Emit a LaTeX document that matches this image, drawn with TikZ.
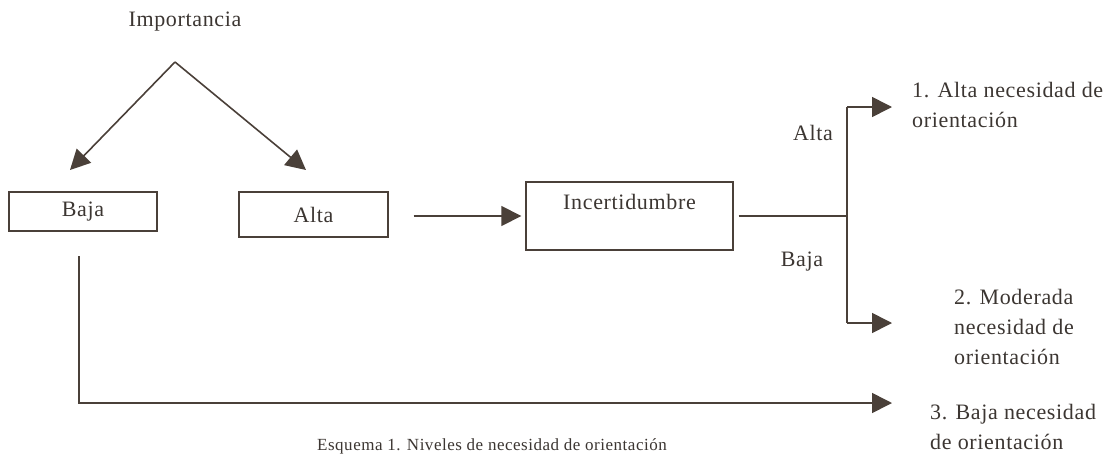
\documentclass[tikz,border=0pt]{standalone}
\usepackage{fontspec}
\setmainfont{Liberation Serif}[LetterSpace=3]
\usetikzlibrary{arrows.meta}
\definecolor{ink}{HTML}{4A4039}
\definecolor{txt}{HTML}{3C3632}
\begin{document}
\begin{tikzpicture}[x=1pt,y=-1pt,
  every node/.style={text=txt,font=\fontsize{22}{30}\selectfont,inner sep=0pt},
  conn/.style={draw=ink,line width=1.6pt},
  arr/.style={conn,-{Triangle[length=20pt,width=20pt]}},
  boxn/.style={draw=ink,line width=1.4pt,rectangle}]
\useasboundingbox (0,0) rectangle (1116,453);
\fill[white] (0,0) rectangle (1116,453);
\node (imp) at (185,22) {Importancia};
\coordinate (apex) at (175,62);
\coordinate (tipL) at (70,170);
\coordinate (tipR) at (306,170);
\node[boxn,minimum width=148pt,minimum height=39pt] (baja) at (83,211.5) {Baja};
\node[boxn,minimum width=149pt,minimum height=45pt] (alta) at (313.5,214.5) {Alta};
\node[boxn,minimum width=207pt,minimum height=68pt] (inc) at (629.5,216) {};
\node (inct) at (629.5,202) {Incertidumbre};
\coordinate (J) at (847,216);
\coordinate (top) at (847,107);
\coordinate (bot) at (847,323);
\coordinate (t1) at (892,107);
\coordinate (t2) at (892,323);
\coordinate (bs) at (79,256);
\coordinate (bc) at (79,403);
\coordinate (t3) at (892,403);
\node (la) at (813,133) {Alta};
\node (lb) at (802,262) {Baja};
\node[anchor=west,align=left] (o1) at (912,105) {1. Alta necesidad de\\orientación};
\node[anchor=west,align=left] (o2) at (954,327) {2. Moderada\\necesidad de\\orientación};
\node[anchor=west,align=left] (o3) at (930,427) {3. Baja necesidad\\de orientación};
\node[font=\fontsize{17}{20}\selectfont] (cap) at (492,446) {Esquema 1. Niveles de necesidad de orientación};
\draw[arr] (apex) -- (tipL);
\draw[arr] (apex) -- (tipR);
\draw[arr,shorten <=25pt,shorten >=4pt] (alta.east |- inc.west) -- (inc.west);
\draw[conn,shorten <=5pt] (inc.east) -- (J);
\draw[conn] (top) -- (bot);
\draw[arr] (top) -- (t1);
\draw[arr] (bot) -- (t2);
\draw[arr] (bs) -- (bc) -- (t3);
\end{tikzpicture}
\end{document}
